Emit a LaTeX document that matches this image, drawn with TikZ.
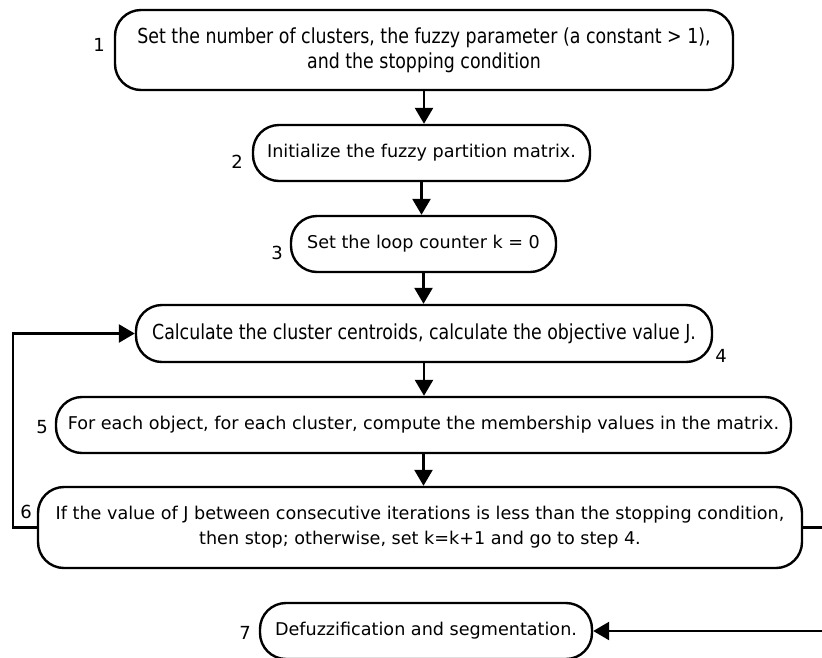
\documentclass[tikz,border=0pt]{standalone}
\usepackage{fontspec}
\setmainfont{DejaVu Sans}
\newfontfamily\narrowfont{DejaVu Sans}[FakeStretch=0.84]
\usetikzlibrary{
  arrows.meta,
  positioning
}

\tikzset{
  stepbox/.style={draw, line width=2.4pt, rounded corners=26pt, align=center, inner sep=0pt},
  flow/.style={line width=2.6pt, -{Triangle[length=16pt, width=18pt]}},
  stepnum/.style={font=\fontsize{18}{20}\selectfont, inner sep=0pt}
}

\begin{document}
\begin{tikzpicture}[x=1pt, y=-1pt]
  \useasboundingbox (0,0) rectangle (822,657);
  \foreach \name/\x/\y/\w/\h/\fnt/\txt in {
    s1/424/50/618/80/{\narrowfont\fontsize{20.7}{25}\selectfont}/{Set the number of clusters, the fuzzy parameter (a constant > 1),\\ and the stopping condition},
    s2/421.5/153/337/56/{\fontsize{17.6}{25}\selectfont}/{Initialize the fuzzy partition matrix.},
    s3/423.5/244/265/56/{\fontsize{17.6}{25}\selectfont}/{Set the loop counter k = 0},
    s4/424/333.5/576/57/{\narrowfont\fontsize{20.7}{25}\selectfont}/{Calculate the cluster centroids, calculate the objective value J.},
    s5/423.5/425/735/56/{\fontsize{17.6}{25}\selectfont}/{For each object, for each cluster, compute the membership values in the matrix.},
    s6/420/527.5/764/81/{\fontsize{17.6}{25}\selectfont}/{If the value of J between consecutive iterations is less than the stopping condition,\\ then stop; otherwise, set k=k+1 and go to step 4.},
    s7/426/631/332/56/{\fontsize{17.6}{25}\selectfont}/{Defuzzification and segmentation.}}{
    \node[stepbox, minimum width=\w pt, minimum height=\h pt, font=\fnt] (\name) at (\x,\y) {\txt};
  }
  % step numbers
  \foreach \name/\x/\y/\num in {l1/99/45/1, l2/237/162/2, l3/277/253/3, l4/721/356/4, l5/42/427/5, l6/26/512/6, l7/245/633/7}
    \node[stepnum] (\name) at (\x,\y) {\num};

  \draw[flow] (s1.south) -- (s1.south |- s2.north);
  \draw[flow] (s2.south) -- (s2.south |- s3.north);
  \draw[flow] (s3.south) -- (s3.south |- s4.north);
  \draw[flow] (s4.south) -- (s4.south |- s5.north);
  \draw[flow] (s5.south) -- (s5.south |- s6.north);
  % loop back and exit
  \coordinate (loopx) at (13,0);
  \coordinate (exitx) at (830,0);
  \draw[flow] (s6.west) -- (s6.west -| loopx) |- (s4.west);
  \draw[flow] (s6.east) -- (s6.east -| exitx) |- (s7.east);
\end{tikzpicture}
\end{document}
